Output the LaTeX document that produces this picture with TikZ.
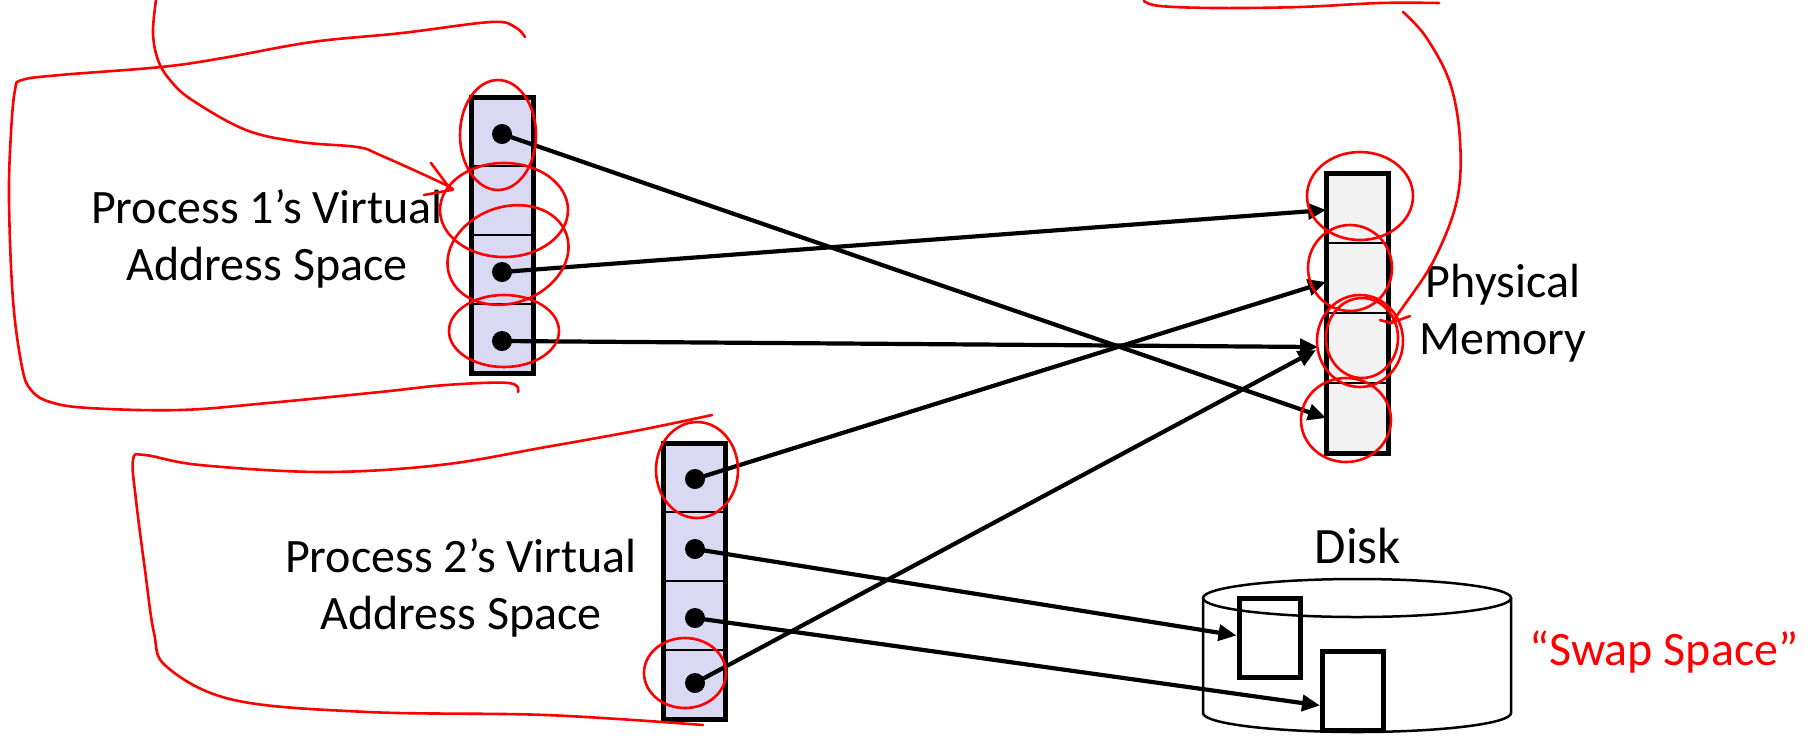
\documentclass[tikz,border=0pt]{standalone}
\usepackage{fontspec}
\setmainfont{Carlito}
\usetikzlibrary{arrows.meta}
\definecolor{vfill}{HTML}{D9D9F3}
\definecolor{pfill}{HTML}{F2F2F2}
\definecolor{pen}{HTML}{FF0000}
\begin{document}
\begin{tikzpicture}[x=0.5pt,y=-0.5pt,
 cell/.style={draw=black, line width=1pt, minimum width=31pt, minimum height=34.5pt, inner sep=0pt, outer sep=0pt},
 vcell/.style={cell, fill=vfill},
 pcell/.style={cell, fill=pfill, minimum height=35pt},
 frame/.style={draw=black, line width=2.5pt},
 dot/.style={circle, fill=black, minimum size=10pt, inner sep=0pt},
 conn/.style={line width=2.1pt, -{Triangle[length=9pt,width=8pt]}},
 lbl/.style={font=\fontsize{24}{28.5}\selectfont, align=center, inner sep=0pt, anchor=base},
 swapbox/.style={draw=black, line width=2.5pt, minimum width=30.5pt, minimum height=39.5pt, inner sep=0pt},
 redpen/.style={draw=pen, line width=1.3pt, line cap=round, line join=round},
]
\useasboundingbox (0,0) rectangle (1812,736);

% Process 1 column
\node[vcell] (a1) at (502,131.5) {};
\node[vcell] (a2) at (502,200.5) {};
\node[vcell] (a3) at (502,269.5) {};
\node[vcell] (a4) at (502,338.5) {};
\draw[frame] (a1.north west) rectangle (a4.south east);
% Process 2 column
\node[vcell] (b1) at (694,477.5) {};
\node[vcell] (b2) at (694,546.5) {};
\node[vcell] (b3) at (694,615.5) {};
\node[vcell] (b4) at (694,684.5) {};
\draw[frame] (b1.north west) rectangle (b4.south east);
% Physical memory column
\node[pcell] (m1) at (1357,208) {};
\node[pcell] (m2) at (1357,278) {};
\node[pcell] (m3) at (1357,348) {};
\node[pcell] (m4) at (1357,418) {};
\draw[frame] (m1.north west) rectangle (m4.south east);

% Disk
\draw[line width=1.25pt] (1357,598) ellipse [x radius=154, y radius=19];
\draw[line width=1.25pt] (1203,598) -- (1203,713) arc[start angle=180, end angle=0, x radius=154, y radius=19] -- (1511,598);
\node[swapbox] (r1) at (1269.5,637.5) {};
\node[swapbox] (r2) at (1353,690.5) {};

% dots
\node[dot] (p1) at (502,134) {};
\node[dot] (p3) at (502,272) {};
\node[dot] (p4) at (502,341) {};
\node[dot] (q1) at (695,479) {};
\node[dot] (q2) at (695,549) {};
\node[dot] (q3) at (695,618) {};
\node[dot] (q4) at (695,683) {};

% connectors
\draw[conn] (p1.center) -- ([yshift=0pt]m4.west);
\draw[conn] (p3.center) -- ([yshift=-1pt]m1.west);
\draw[conn] (p4.center) -- ([xshift=-4pt,yshift=0.5pt]m3.west);
\draw[conn] (q1.center) -- ([yshift=-2pt]m2.west);
\draw[conn] (q4.center) -- ([xshift=-5pt,yshift=-1pt]m3.west);
\draw[conn] (q2.center) -- ([yshift=1pt]r1.west);
\draw[conn] (q3.center) -- ([yshift=-7.5pt]r2.west);

% labels (anchor base = last line)
\node[lbl] (l1) at (267,280) {Process 1’s Virtual\\Address Space};
\node[lbl] (l2) at (461,629) {Process 2’s Virtual\\Address Space};
\node[lbl] (l3) at (1503,354) {Physical\\Memory};
\node[lbl, font=\fontsize{25.5}{30}\selectfont] (l4) at (1358,563) {Disk};
\node[lbl, text=pen] (l5) at (1664,665) {“Swap Space”};

% red annotations
\draw[redpen] plot[smooth, tension=0.6] coordinates {(525,37) (515,27) (491,22) (402,33) (312,42) (223,58) (161,67) (60,75) (22,80) (15,90) (11,133) (9,200) (13,300) (22,367) (31,390) (50,402) (89,408) (180,410) (268,403) (380,392) (446,385) (509,383) (518,392)};
\draw[redpen] plot[smooth, tension=0.6] coordinates {(156,0) (153,33) (158,60) (170,80) (192,100) (246,130) (300,142) (357,147) (380,155) (446,185) (451,190)};
\draw[redpen] (431,163) -- (451,190) -- (424,195);
\draw[redpen] plot[smooth, tension=0.6] coordinates {(1144,1) (1160,6) (1216,8) (1300,7) (1380,3) (1439,3)};
\draw[redpen] plot[smooth, tension=0.6] coordinates {(1403,12) (1426,37) (1450,83) (1460,140) (1457,200) (1434,260) (1403,307) (1391,323)};
\draw[redpen] (1380,320) -- (1391,323) -- (1410,316);
\draw[redpen] plot[smooth, tension=0.6] coordinates {(712,415) (640,430) (546,447) (440,465) (323,472) (200,465) (145,455) (133,460) (136,500) (145,570) (154,633) (167,667) (234,700) (368,712) (546,715) (703,725)};

% red circles
\draw[redpen] (498,135) ellipse [x radius=38, y radius=55];
\draw[redpen] (504,210) ellipse [x radius=64, y radius=47];
\draw[redpen, rotate around={20:(508,255)}] (508,255) ellipse [x radius=62, y radius=48];
\draw[redpen] (504,331) ellipse [x radius=55, y radius=36];
\draw[redpen] (1360,196) ellipse [x radius=53, y radius=44];
\draw[redpen] (1350,268) ellipse [x radius=42, y radius=43];
\draw[redpen] (1360,341) ellipse [x radius=43, y radius=46];
\draw[redpen] (1362,338) ellipse [x radius=36, y radius=40];
\draw[redpen] (1346,420) ellipse [x radius=45, y radius=42];
\draw[redpen] (697,470) ellipse [x radius=41, y radius=48];
\draw[redpen] (685,673) ellipse [x radius=41, y radius=35];
\end{tikzpicture}
\end{document}
